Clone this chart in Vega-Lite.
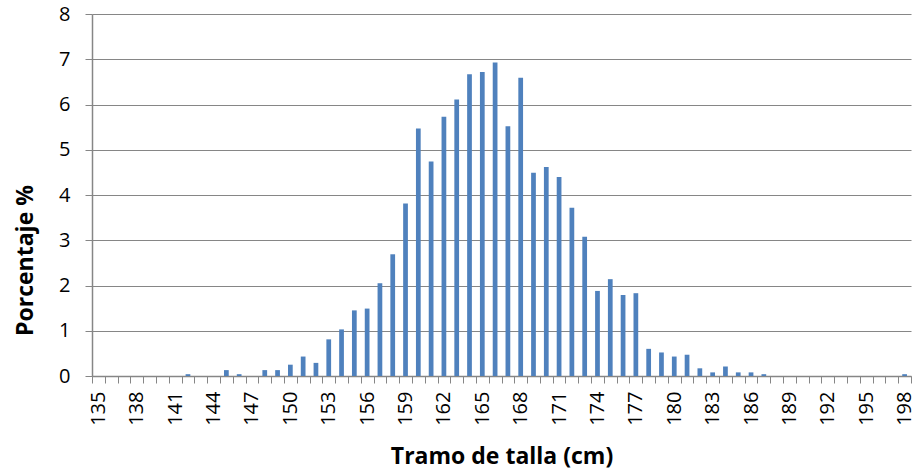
{
  "$schema": "https://vega.github.io/schema/vega-lite/v6.json",
  "autosize": "none",
  "width": 819,
  "height": 362,
  "padding": {"left": 92, "top": 14, "right": 6, "bottom": 97},
  "background": "white",
  "config": {"view": {"stroke": null}, "font": "Open Sans"},
  "data": {"values": [
    {"talla": 135, "pct": 0}, {"talla": 136, "pct": 0}, {"talla": 137, "pct": 0}, {"talla": 138, "pct": 0},
    {"talla": 139, "pct": 0}, {"talla": 140, "pct": 0}, {"talla": 141, "pct": 0}, {"talla": 142, "pct": 0.04},
    {"talla": 143, "pct": 0}, {"talla": 144, "pct": 0}, {"talla": 145, "pct": 0.13}, {"talla": 146, "pct": 0.04},
    {"talla": 147, "pct": 0}, {"talla": 148, "pct": 0.13}, {"talla": 149, "pct": 0.13}, {"talla": 150, "pct": 0.25},
    {"talla": 151, "pct": 0.43}, {"talla": 152, "pct": 0.29}, {"talla": 153, "pct": 0.81}, {"talla": 154, "pct": 1.03},
    {"talla": 155, "pct": 1.45}, {"talla": 156, "pct": 1.49}, {"talla": 157, "pct": 2.05}, {"talla": 158, "pct": 2.69},
    {"talla": 159, "pct": 3.81}, {"talla": 160, "pct": 5.47}, {"talla": 161, "pct": 4.74}, {"talla": 162, "pct": 5.73},
    {"talla": 163, "pct": 6.11}, {"talla": 164, "pct": 6.67}, {"talla": 165, "pct": 6.72}, {"talla": 166, "pct": 6.93},
    {"talla": 167, "pct": 5.52}, {"talla": 168, "pct": 6.59}, {"talla": 169, "pct": 4.49}, {"talla": 170, "pct": 4.62},
    {"talla": 171, "pct": 4.40}, {"talla": 172, "pct": 3.72}, {"talla": 173, "pct": 3.08}, {"talla": 174, "pct": 1.88},
    {"talla": 175, "pct": 2.14}, {"talla": 176, "pct": 1.79}, {"talla": 177, "pct": 1.83}, {"talla": 178, "pct": 0.60},
    {"talla": 179, "pct": 0.52}, {"talla": 180, "pct": 0.43}, {"talla": 181, "pct": 0.47}, {"talla": 182, "pct": 0.17},
    {"talla": 183, "pct": 0.08}, {"talla": 184, "pct": 0.21}, {"talla": 185, "pct": 0.08}, {"talla": 186, "pct": 0.08},
    {"talla": 187, "pct": 0.04}, {"talla": 188, "pct": 0}, {"talla": 189, "pct": 0}, {"talla": 190, "pct": 0},
    {"talla": 191, "pct": 0}, {"talla": 192, "pct": 0}, {"talla": 193, "pct": 0}, {"talla": 194, "pct": 0},
    {"talla": 195, "pct": 0}, {"talla": 196, "pct": 0}, {"talla": 197, "pct": 0}, {"talla": 198, "pct": 0.04}
  ]},
  "mark": {"type": "bar", "color": "#4F81BD", "width": {"band": 0.37}},
  "encoding": {
    "x": {
      "field": "talla", "type": "ordinal",
      "scale": {"paddingInner": 0, "paddingOuter": 0},
      "axis": {
        "title": "Tramo de talla (cm)",
        "titleFont": "Open Sans", "titleFontSize": 23, "titleFontWeight": "bold", "titleColor": "black",
        "titleBaseline": "alphabetic", "titleY": 87,
        "labelAngle": -90, "labelFont": "Open Sans", "labelFontSize": 20, "labelColor": "black",
        "labelPadding": 8, "labelOverlap": false,
        "labelExpr": "(datum.value - 135) % 3 == 0 ? datum.label : ''",
        "tickBand": "extent", "tickSize": 7, "tickColor": "#868686", "tickWidth": 1,
        "domainColor": "#868686", "domainWidth": 1.5, "grid": false
      }
    },
    "y": {
      "field": "pct", "type": "quantitative",
      "scale": {"domain": [0, 8], "nice": false},
      "axis": {
        "title": "Porcentaje %",
        "titleFont": "Open Sans", "titleFontSize": 23, "titleFontWeight": "bold", "titleColor": "black",
        "titleAngle": -90, "titleBaseline": "alphabetic", "titleAlign": "center",
        "titleX": -60, "titleY": 246,
        "values": [0, 1, 2, 3, 4, 5, 6, 7, 8],
        "labelFont": "Open Sans", "labelFontSize": 20, "labelColor": "black", "labelPadding": 15,
        "tickSize": 7, "tickColor": "#868686", "tickWidth": 1,
        "domainColor": "#868686", "domainWidth": 1.5,
        "grid": true, "gridColor": "#868686", "gridWidth": 1.2
      }
    }
  }
}
